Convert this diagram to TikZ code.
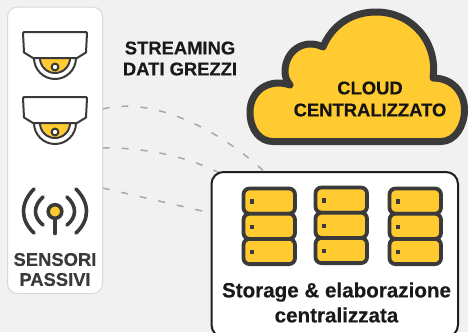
\documentclass[tikz,border=0pt]{standalone}
\usepackage{fontspec}
\setmainfont[BoldFeatures={FakeBold=0.35}]{Liberation Sans}
\definecolor{bgc}{HTML}{F1F1F1}
\definecolor{dk}{HTML}{3A3A3A}
\definecolor{yl}{HTML}{FFCB30}
\definecolor{gr}{HTML}{A8A8A8}
\definecolor{edgec}{HTML}{D8D8D8}
\tikzset{
 dk line/.style={draw=dk,line width=2pt,line join=round},
 ant line/.style={draw=dk,line width=3.6pt,line join=round,line cap=round},
 link/.style={draw=gr,line width=1.5pt,dash pattern=on 7pt off 12pt},
 lbl/.style={align=center,inner sep=0pt},
 unitbox/.style={draw=dk,line width=3.8pt,fill=yl,rounded corners=6pt},
 anchorpt/.style={inner sep=0pt,minimum size=0pt},
}
\newcommand{\camera}[2]{%
 \begin{scope}[shift={(#1,#2)}]
 \fill[yl] (-14,26.5) arc[start angle=180,end angle=0,radius=14] -- cycle;
 \draw[dk line] (-15,26.5) arc[start angle=180,end angle=0,radius=15];
 \draw[dk line] (-21,26.5) arc[start angle=180,end angle=0,radius=21];
 \draw[dk line,fill=white] (0,35.5) circle (3.4);
 \draw[dk line,fill=white] (-31,0.5) -- (31,0.5) -- (32,1.5) -- (31,21) -- (22,26.5) -- (-22,26.5) -- (-31,21) -- (-32,1.5) -- cycle;
 \end{scope}}
\newcommand{\servers}[2]{%
 \begin{scope}[shift={(#1,#2)}]
 \foreach \k in {0,25.2,50.4}{
  \draw[unitbox] (0,\k) rectangle (51.5,\k+25.2);
  \fill[dk] (6.8,\k+10.8) rectangle (10.2,\k+15);
 }
 \end{scope}}
\begin{document}
\begin{tikzpicture}[x=1pt,y=-1pt]
\useasboundingbox (0,0) rectangle (468,332);
\fill[bgc] (0,0) rectangle (468,332);
\node[anchorpt] (srcA) at (102.5,109) {};
\node[anchorpt] (srcB) at (102.5,148) {};
\node[anchorpt] (srcC) at (102.5,188) {};
\coordinate (dstA) at (268,175);
\coordinate (dstB) at (228,178);
\coordinate (dstC) at (211,213);
\draw[link] (srcA) .. controls (150,97) and (215,125) .. (dstA);
\draw[link] (srcB) .. controls (150,147) and (200,160) .. (dstB);
\draw[link] (srcC) -- (dstC);
\draw[draw=edgec,fill=white,line width=1pt,rounded corners=10pt] (7.5,7) rectangle (102.5,293.5);
\camera{55}{31.5}
\camera{55}{96.5}
\draw[ant line] (55,216) -- (55,233.5);
\draw[ant line,fill=yl] (55,211.5) circle (6.8);
\draw[ant line] (43,197) .. controls (33,206) and (33,217) .. (43,225);
\draw[ant line] (67,197) .. controls (77,206) and (77,217) .. (67,225);
\draw[ant line] (34,189) .. controls (20,203) and (20,220) .. (34,233);
\draw[ant line] (76,189) .. controls (90,203) and (90,220) .. (76,233);
\node[lbl,text=dk,font=\bfseries\fontsize{18.4}{20}\selectfont] (sens) at (55,269.5) {SENSORI\\PASSIVI};
\node[lbl,text=black!90,font=\bfseries\fontsize{18.4}{21}\selectfont] (stream) at (180,58.5) {STREAMING\\DATI GREZZI};
\draw[draw=dk,line width=7pt,fill=yl,line join=round]
 (273,141.5) -- (441,141.5)
 .. controls (455,141.5) and (464.5,126) .. (464.5,110)
 .. controls (464.5,92) and (452,78) .. (433,78)
 .. controls (438,42) and (412,12) .. (376,12)
 .. controls (352,12) and (332,25) .. (323,47)
 .. controls (305,38) and (285,50) .. (285,72)
 .. controls (285,77) and (287,81) .. (290,85)
 .. controls (270,78) and (250,90) .. (250,112)
 .. controls (250,130) and (260,141.5) .. (273,141.5) -- cycle;
\node[lbl,text=black!92,font=\bfseries\fontsize{18.4}{22}\selectfont] (cloud) at (370,99) {CLOUD\\CENTRALIZZATO};
\draw[draw=black!88,fill=white,line width=2pt,rounded corners=12pt] (211.5,172) rectangle (458,337);
\servers{243.5}{188.5}
\servers{315.5}{187.5}
\servers{389.5}{188.5}
\node[lbl,text=black!90,font=\bfseries\fontsize{20.6}{25}\selectfont] (store) at (336.5,302.5) {Storage \& elaborazione\\centralizzata};
\end{tikzpicture}
\end{document}
